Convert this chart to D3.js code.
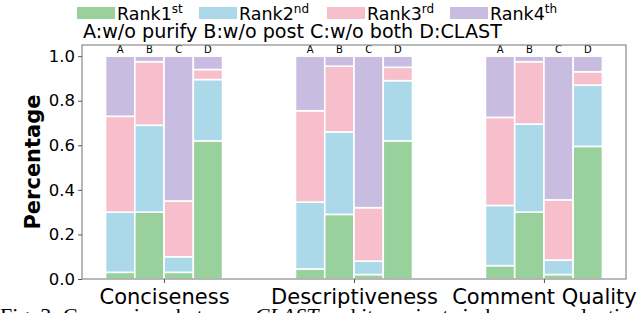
<!DOCTYPE html>
<html><head><meta charset="utf-8">
<script src="https://cdn.jsdelivr.net/npm/d3@7"></script>
<style>body{margin:0;background:#fff;overflow:hidden}svg{display:block}</style>
</head><body>
<svg id="c" width="640" height="313"></svg>
<script>
// ---- data ----
const categories = ["Conciseness", "Descriptiveness", "Comment Quality"];
const variants = ["A", "B", "C", "D"];
const variantNote = "A:w/o purify B:w/o post C:w/o both D:CLAST";
const rankNames = ["Rank1", "Rank2", "Rank3", "Rank4"];
const rankSups = ["st", "nd", "rd", "th"];
// per category, per variant (A,B,C,D)
const rank1 = [[0.03, 0.30, 0.03, 0.62], [0.045, 0.29, 0.02, 0.62], [0.06, 0.30, 0.02, 0.595]];
const rank2 = [[0.27, 0.39, 0.07, 0.275], [0.30, 0.37, 0.06, 0.27], [0.27, 0.395, 0.065, 0.275]];
const rank3 = [[0.43, 0.285, 0.25, 0.045], [0.41, 0.295, 0.24, 0.06], [0.395, 0.28, 0.27, 0.06]];
const rank4 = [[0.27, 0.025, 0.65, 0.06], [0.245, 0.045, 0.68, 0.05], [0.275, 0.025, 0.645, 0.07]];
const yTicks = [0, 0.2, 0.4, 0.6, 0.8, 1.0];
const colors = ["#98d19b", "#abd9ea", "#f6bfcb", "#c8bde0"];
const caption = ["Fig. 3: Comparison between ", "CLAST", " and its variants in human evaluation"];

const svg = d3.select("#c");
const L = 82, R = 626, T = 45, B = 279;
const x = d3.scaleLinear().domain([-0.432, 2.432]).range([L, R]);
const y = d3.scaleLinear().domain([0, 1.05]).range([B, T]);
const barW = 0.154;
const offs = [-1.5, -0.5, 0.5, 1.5];
const ranks = [rank1, rank2, rank3, rank4];

// bars
const rows = [];
categories.forEach((c, ci) => {
  variants.forEach((v, vi) => {
    let base = 0;
    ranks.forEach((r, ri) => {
      const val = r[ci][vi];
      rows.push({ci, vi, ri, y0: base, y1: base + val});
      base += val;
    });
  });
});
svg.append("g").selectAll("rect").data(rows).join("rect")
  .attr("x", d => x(d.ci + offs[d.vi] * barW - barW / 2))
  .attr("width", d => x(barW) - x(0))
  .attr("y", d => y(d.y1))
  .attr("height", d => y(d.y0) - y(d.y1))
  .attr("fill", d => colors[d.ri])
  .attr("stroke", "#fff").attr("stroke-width", 1.6);

// variant letters
const letters = [];
categories.forEach((c, ci) => variants.forEach((v, vi) => letters.push({ci, vi, v})));
svg.append("g").selectAll("text").data(letters).join("text")
  .attr("x", d => x(d.ci + offs[d.vi] * barW))
  .attr("y", y(1.0) - 3)
  .attr("text-anchor", "middle")
  .attr("font-family", "DejaVu Sans").attr("font-size", 10)
  .text(d => d.v);

// frame
svg.append("rect").attr("x", L).attr("y", T).attr("width", R - L).attr("height", B - T)
  .attr("fill", "none").attr("stroke", "#8a8a8a").attr("stroke-width", 1.2);

// y axis
const ya = svg.append("g").attr("transform", `translate(${L},0)`)
  .call(d3.axisLeft(y).tickValues(yTicks).tickFormat(d3.format(".1f")).tickSize(4).tickPadding(3));
ya.select(".domain").remove();
ya.selectAll("line").attr("stroke", "#555");
ya.selectAll("text").attr("font-family", "DejaVu Sans").attr("font-size", 16.5).attr("fill", "#000");

// x axis
const xa = svg.append("g").attr("transform", `translate(0,${B})`)
  .call(d3.axisBottom(x).tickValues([0, 1, 2]).tickFormat(i => categories[i]).tickSize(4).tickPadding(6));
xa.select(".domain").remove();
xa.selectAll("line").attr("stroke", "#555");
xa.selectAll("text").attr("font-family", "DejaVu Sans").attr("font-size", 21).attr("fill", "#000");

// y label
svg.append("text").attr("transform", `translate(40,${(T + B) / 2}) rotate(-90)`)
  .attr("text-anchor", "middle").attr("font-family", "DejaVu Sans").attr("font-weight", "bold")
  .attr("font-size", 21).text("Percentage");

// legend
const lx = [77, 199, 327, 450];
rankNames.forEach((n, i) => {
  svg.append("rect").attr("x", lx[i]).attr("y", 7).attr("width", 38).attr("height", 12).attr("fill", colors[i]);
  const t = svg.append("text").attr("x", lx[i] + 40).attr("y", 20)
    .attr("font-family", "DejaVu Sans").attr("font-size", 17.5);
  t.append("tspan").text(n);
  t.append("tspan").attr("font-size", 12).attr("dy", -7).text(rankSups[i]);
});
const note = svg.append("text").attr("x", 83).attr("y", 38)
  .attr("font-family", "DejaVu Sans").attr("font-size", 16).text(variantNote);
const w = note.node().getComputedTextLength();
note.attr("font-size", 16 * 419 / w);

// caption (cut off at the bottom)
const cap = svg.append("text").attr("x", 0).attr("y", 323)
  .attr("font-family", "Liberation Serif").attr("font-size", 22);
cap.append("tspan").text(caption[0]);
cap.append("tspan").attr("font-style", "italic").text(caption[1]);
cap.append("tspan").text(caption[2]);
</script>
</body></html>
